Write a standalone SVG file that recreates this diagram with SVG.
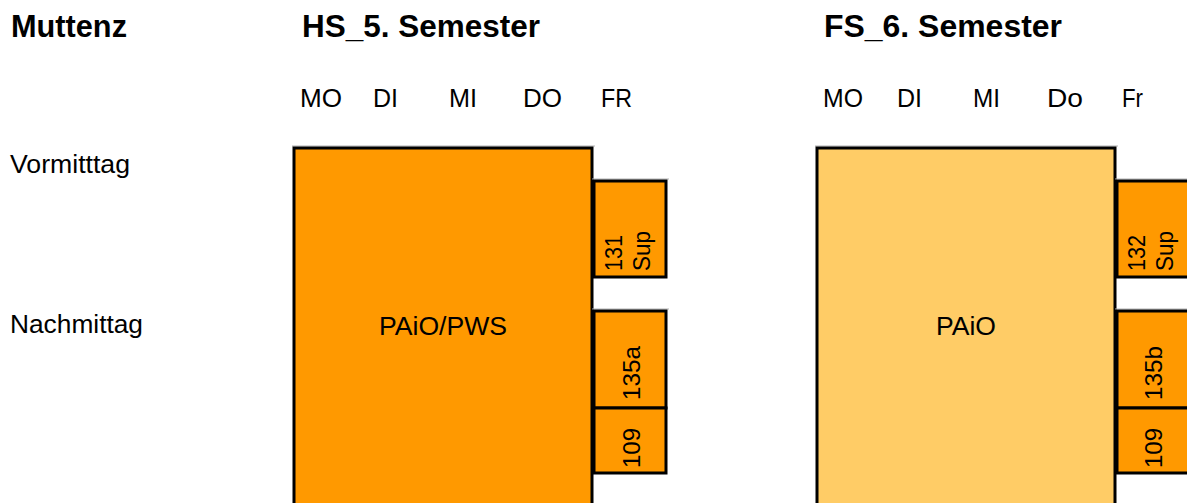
<svg xmlns="http://www.w3.org/2000/svg" width="1187" height="503" viewBox="0 0 1187 503">
<style>
text{font-family:"Liberation Sans",Arial,sans-serif;fill:#000}
.h{font-size:31px;font-weight:bold}
.d{font-size:25px}
.l{font-size:25px}
.r{font-size:24px}
.box{stroke:#000;stroke-width:3}
.o{fill:#FF9900}
.y{fill:#FFCC66}
.sh{stroke:#b0b0b0;stroke-width:1}
</style>
<rect width="1187" height="503" fill="#fff"/>
<g id="headers">
<text class="h" x="11" y="37" textLength="116" lengthAdjust="spacingAndGlyphs">Muttenz</text>
<text class="h" x="302" y="37" textLength="238" lengthAdjust="spacingAndGlyphs">HS_5. Semester</text>
<text class="h" x="824" y="37" textLength="238" lengthAdjust="spacingAndGlyphs">FS_6. Semester</text>
</g>
<g id="days">
<text class="d" x="300" y="107" textLength="42" lengthAdjust="spacingAndGlyphs">MO</text>
<text class="d" x="373" y="107" textLength="25" lengthAdjust="spacingAndGlyphs">DI</text>
<text class="d" x="449" y="107" textLength="28" lengthAdjust="spacingAndGlyphs">MI</text>
<text class="d" x="523" y="107" textLength="39" lengthAdjust="spacingAndGlyphs">DO</text>
<text class="d" x="601" y="107" textLength="31" lengthAdjust="spacingAndGlyphs">FR</text>
<text class="d" x="823" y="107" textLength="40" lengthAdjust="spacingAndGlyphs">MO</text>
<text class="d" x="897" y="107" textLength="25" lengthAdjust="spacingAndGlyphs">DI</text>
<text class="d" x="973" y="107" textLength="27" lengthAdjust="spacingAndGlyphs">MI</text>
<text class="d" x="1047" y="107" textLength="36" lengthAdjust="spacingAndGlyphs">Do</text>
<text class="d" x="1122" y="107" textLength="21" lengthAdjust="spacingAndGlyphs">Fr</text>
</g>
<g id="times">
<text class="l" x="10" y="173" textLength="120" lengthAdjust="spacingAndGlyphs">Vormitttag</text>
<text class="l" x="10" y="333" textLength="133" lengthAdjust="spacingAndGlyphs">Nachmittag</text>
</g>
<g id="hs-main">
<line class="sh" x1="292" y1="146" x2="595" y2="146"/>
<rect class="box o" x="294" y="148" width="298" height="360"/>
<text class="l" x="443" y="335" text-anchor="middle" textLength="128" lengthAdjust="spacingAndGlyphs">PAiO/PWS</text>
</g>
<g id="hs-131">
<line class="sh" x1="592" y1="179" x2="669" y2="179"/>
<rect class="box o" x="594" y="181" width="72" height="96"/>
<text class="r" transform="translate(622,271) rotate(-90)" textLength="36" lengthAdjust="spacingAndGlyphs">131</text>
<text class="r" transform="translate(650,271) rotate(-90)" textLength="40" lengthAdjust="spacingAndGlyphs">Sup</text>
</g>
<g id="hs-135a">
<line class="sh" x1="592" y1="309" x2="669" y2="309"/>
<rect class="box o" x="594" y="311" width="72" height="97"/>
<text class="r" transform="translate(640,400) rotate(-90)" textLength="54" lengthAdjust="spacingAndGlyphs">135a</text>
</g>
<g id="hs-109">
<rect class="box o" x="594" y="408" width="72" height="65"/>
<text class="r" transform="translate(640,468) rotate(-90)" textLength="40" lengthAdjust="spacingAndGlyphs">109</text>
</g>
<g id="fs-main">
<line class="sh" x1="815" y1="146" x2="1118" y2="146"/>
<rect class="box y" x="817" y="148" width="298" height="360"/>
<text class="l" x="966" y="335" text-anchor="middle" textLength="60" lengthAdjust="spacingAndGlyphs">PAiO</text>
</g>
<g id="fs-132">
<line class="sh" x1="1115" y1="179" x2="1190" y2="179"/>
<rect class="box o" x="1117" y="181" width="80" height="96"/>
<text class="r" transform="translate(1145,271) rotate(-90)" textLength="36" lengthAdjust="spacingAndGlyphs">132</text>
<text class="r" transform="translate(1173,271) rotate(-90)" textLength="40" lengthAdjust="spacingAndGlyphs">Sup</text>
</g>
<g id="fs-135b">
<line class="sh" x1="1115" y1="309" x2="1190" y2="309"/>
<rect class="box o" x="1117" y="311" width="80" height="97"/>
<text class="r" transform="translate(1162,400) rotate(-90)" textLength="54" lengthAdjust="spacingAndGlyphs">135b</text>
</g>
<g id="fs-109">
<rect class="box o" x="1117" y="408" width="80" height="65"/>
<text class="r" transform="translate(1162,468) rotate(-90)" textLength="40" lengthAdjust="spacingAndGlyphs">109</text>
</g>
<g id="connectors"></g>
</svg>
